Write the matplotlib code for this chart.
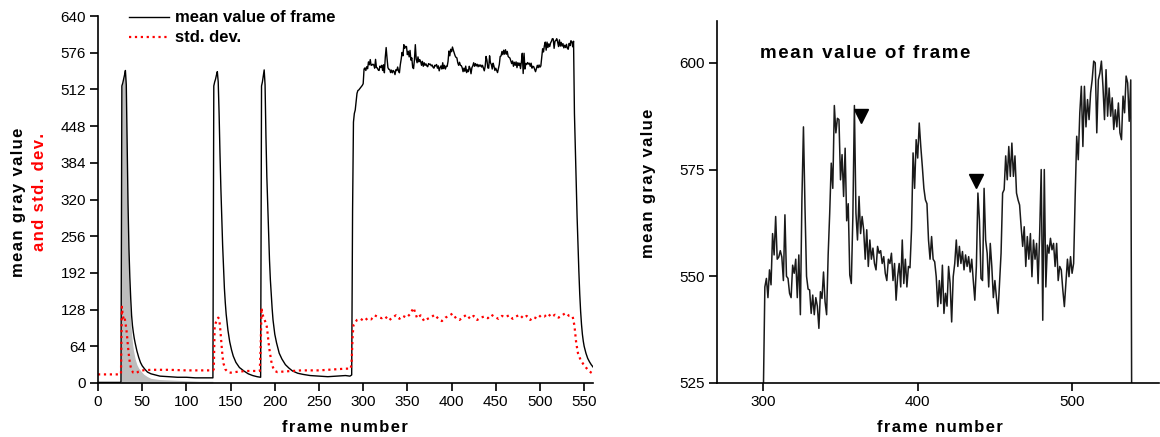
import numpy as np
import matplotlib
matplotlib.use("Agg")
import matplotlib.pyplot as plt

plt.rcParams["font.family"] = ["Liberation Sans", "DejaVu Sans"]

# ── data ─────────────────────────────────────────────────────────────────────
# mean gray value, frames 0..300 (three bleach pulses, then the rise)
MEAN_EARLY_FRAMES = [0, 25, 26, 27, 28, 29, 30, 31, 32, 33, 34, 35, 36, 37, 38, 39, 40, 41, 42, 44,
                     46, 48, 50, 53, 56, 60, 65, 70, 80, 90, 100, 110, 120, 130,
                     131, 132, 133, 134, 135, 136, 137, 138, 139, 140, 141, 142, 143, 144, 145,
                     147, 149, 151, 153, 156, 160, 165, 170, 175, 180, 184,
                     185, 186, 187, 188, 189, 190, 191, 192, 193, 194, 195, 196, 197, 198, 200,
                     202, 205, 208, 212, 216, 220, 226, 232, 240, 250, 260, 270, 280, 285, 287,
                     288, 289, 290, 291, 292, 293, 294, 295, 296, 297, 298, 299, 300]
MEAN_EARLY = [1, 1, 2, 518, 523, 530, 537, 545, 520, 420, 310, 235, 185, 148, 118, 100, 88, 78, 70, 56,
              45, 36, 30, 24, 19, 16, 14, 12, 11, 10, 10, 9, 9, 9,
              518, 525, 530, 537, 543, 525, 470, 400, 340, 290, 240, 200, 165, 140, 120,
              92, 72, 58, 47, 36, 27, 21, 16, 13, 11, 10,
              518, 525, 535, 546, 520, 430, 360, 310, 260, 215, 180, 155, 130, 110, 85,
              70, 52, 42, 32, 26, 21, 17, 15, 13, 12, 11, 12, 13, 12, 14,
              300, 455, 470, 476, 490, 505, 510, 511, 513, 515, 517, 519, 522]

# mean gray value per frame on the plateau, starting at frame 301
PLATEAU_START = 301
PLATEAU = [547.5, 549.5, 545, 551.5, 548, 560, 555, 564, 554, 554.5,
           556, 554.5, 549, 564.4, 550, 549.5, 546, 545, 552.6, 550.7,
           554, 545, 555, 541, 568, 585, 566, 550, 547, 546.8,
           541.3, 545.6, 541, 545, 543, 537.8, 546.4, 544.8, 551, 544,
           541, 555, 564.8, 576.5, 570.6, 590, 583.6, 587, 586.7, 572.6,
           578.5, 568.7, 580, 563, 567, 550.3, 548.3, 564, 590, 564.8,
           558.5, 568.7, 560, 564, 560.9, 554, 560.9, 552.3, 558.5, 554,
           556.6, 553, 551.5, 557, 555.4, 556, 553, 554.6, 550.7, 549,
           554, 553, 555.4, 549, 553, 544.4, 549.9, 553, 547.5, 558.5,
           548.3, 554, 547.5, 552.3, 552, 560.9, 578.9, 570.6, 582, 577.7,
           585.9, 580.4, 575.7, 570.6, 567.9, 567, 558.5, 554, 559.3, 554,
           553.4, 549.9, 542.9, 549, 543.6, 552.6, 541.3, 546, 543, 552.3,
           548.3, 539.3, 549.9, 553, 558.5, 552.3, 557, 553, 555.8, 551.5,
           555, 552.3, 554.6, 551, 554, 549, 544.4, 552.3, 569.5, 563,
           549.5, 549, 570.6, 558.5, 555.4, 547.5, 557.7, 552.3, 545, 549,
           545, 541.3, 548.3, 555.4, 569.5, 570.3, 578.2, 572.6, 580.4, 573.4,
           581.2, 573.4, 578.2, 569.5, 567.9, 566.7, 561.6, 557, 561.6, 552.3,
           559.3, 554, 560, 549.9, 558.5, 554, 557.7, 548.3, 560, 575,
           539.7, 575, 547.5, 557.3, 555.4, 558.9, 556.2, 557.7, 552.3, 557.7,
           549, 552.3, 551.5, 546.8, 542.9, 548.3, 554, 549.9, 554.6, 550.7,
           553, 568.7, 582.8, 577.3, 588.3, 594.5, 580.4, 594.5, 585, 591.4,
           586.7, 593, 596, 600.4, 600, 583.6, 596, 597.6, 600.4, 594.5,
           586.7, 598.4, 587.5, 594.1, 587.5, 591.8, 584.4, 589, 585, 590.6,
           583.6, 582, 592.2, 588.3, 596.9, 595.3, 586.3, 596]

# decay after illumination stops
MEAN_TAIL_FRAMES = [539, 540, 541, 542, 543, 544, 545, 546, 547, 548, 549, 550, 552, 554, 556, 558, 560]
MEAN_TAIL = [470, 410, 350, 290, 240, 195, 155, 125, 102, 85, 73, 64, 52, 43, 37, 32, 28]

# standard deviation of the frame
STD_FRAMES = [0, 25, 26, 27, 28, 29, 30, 31, 32, 33, 34, 35, 36, 37, 38, 40, 43, 46, 50, 60, 80, 100,
              120, 130, 131, 132, 134, 136, 137, 138, 139, 140, 141, 142, 144, 147, 150, 160, 170,
              183, 184, 185, 186, 187, 189, 191, 192, 193, 194, 196, 198, 200, 203, 210, 230, 250,
              270, 280, 286, 287, 288,
              289, 293, 297, 301, 305, 309, 313, 317, 321, 325, 329, 333, 337, 341, 345, 349,
              353, 357, 361, 365, 369, 373, 377, 381, 385, 389, 393, 397, 401, 405, 409, 413,
              417, 421, 425, 429, 433, 437, 441, 445, 449, 453, 457, 461, 465, 469, 473, 477,
              481, 485, 489, 493, 497, 501, 505, 509, 513, 517, 521, 525, 529, 533, 537,
              539, 541, 543, 546, 549, 552, 555, 558, 560]
STD_VALUES = [15, 15, 16, 133, 118, 112, 115, 105, 95, 80, 62, 48, 36, 28, 22, 18, 17, 20, 22, 23, 23, 22,
              22, 22, 24, 100, 108, 114, 112, 100, 80, 62, 45, 34, 24, 19, 18, 20, 21,
              21, 60, 131, 120, 116, 108, 98, 85, 70, 58, 38, 27, 21, 19, 20, 22, 22,
              24, 25, 25, 40, 80,
              101, 110, 112, 108, 113, 111, 118, 115, 113, 116, 109, 114, 118, 112, 117, 114,
              120, 131, 113, 118, 108, 112, 115, 119, 112, 108, 114, 117, 121, 113, 110, 115,
              119, 112, 117, 110, 114, 116, 113, 119, 115, 112, 117, 115, 118, 112, 116, 119,
              113, 117, 110, 115, 112, 118, 116, 121, 115, 119, 114, 118, 122, 117, 116,
              100, 70, 52, 40, 33, 27, 22, 18, 16]

# shaded area under the first pulse
FILL_FRAMES = [26, 27, 28, 29, 30, 31, 32, 33, 34, 35, 36, 37, 38, 39, 40, 42, 44, 46, 49, 52, 56, 60,
               70, 85, 100, 115, 130]
FILL_VALUES = [0, 518, 523, 530, 537, 545, 470, 360, 260, 190, 140, 108, 85, 70, 58, 42, 32, 26, 20, 15,
               11, 8, 6, 5, 4, 3, 3]

# flash events marked on the detail view
MARKER_FRAMES = [363.4, 437.9]
MARKER_VALUES = [587.6, 572.3]

mean_frames = np.concatenate([MEAN_EARLY_FRAMES,
                              PLATEAU_START + np.arange(len(PLATEAU)),
                              MEAN_TAIL_FRAMES])
mean_values = np.concatenate([MEAN_EARLY, PLATEAU, MEAN_TAIL])


def tracked(s):
    # loosen the letter spacing of bold labels
    return "\u200a".join(s)


W, H = 1160, 437
fig = plt.figure(figsize=(W / 100, H / 100), dpi=100)

# ── left: whole recording ───────────────────────────────────────────────────
ax = fig.add_axes([98 / W, 1 - 383 / H, 495 / W, 367 / H])
ax.fill_between(FILL_FRAMES, FILL_VALUES, 0, color="#bdbdbd", linewidth=0)
ax.plot(mean_frames, mean_values, color="black", linewidth=1.0, label="mean value of frame")
ax.plot(STD_FRAMES, STD_VALUES, color="red", linestyle=":", linewidth=1.6, label="std. dev.")
ax.set_xlim(0, 560)
ax.set_ylim(0, 640)
ax.set_xticks(np.arange(0, 551, 50))
ax.set_yticks(np.arange(0, 641, 64))
leg = ax.legend(loc="upper left", bbox_to_anchor=(31 / 495, 1.015), frameon=False,
                handlelength=2.4, handletextpad=0.35, labelspacing=0.3, borderpad=0,
                borderaxespad=0, prop={"weight": "bold", "size": 12})

# ── right: plateau detail ───────────────────────────────────────────────────
ax2 = fig.add_axes([717 / W, 1 - 383 / H, 442 / W, 362 / H])
ax2.plot(mean_frames, mean_values, color="#1a1a1a", linewidth=1.1)
ax2.plot(MARKER_FRAMES, MARKER_VALUES, linestyle="none", marker="v", color="black", markersize=10)
ax2.set_xlim(270, 556.3)
ax2.set_ylim(525, 609.8)
ax2.set_xticks([300, 400, 500])
ax2.set_yticks([525, 550, 575, 600])

for a in (ax, ax2):
    for side in ("top", "right"):
        a.spines[side].set_visible(False)
    for side in ("left", "bottom"):
        a.spines[side].set_linewidth(1.2)
    a.tick_params(direction="out", length=5.5, width=1.2, labelsize=11, pad=3)

# ── labels ──────────────────────────────────────────────────────────────────
lab = dict(fontsize=12, fontweight="bold", ha="center", va="center")
fig.text(345 / W, 1 - 427 / H, tracked("frame number"), **lab)
fig.text(940 / W, 1 - 427 / H, tracked("frame number"), **lab)
fig.text(19 / W, 1 - 202 / H, tracked("mean gray value"), rotation=90, **lab)
fig.text(40 / W, 1 - 192 / H, tracked("and std. dev."), rotation=90, color="red", **lab)
fig.text(649 / W, 1 - 183 / H, tracked("mean gray value"), rotation=90, **lab)
fig.text(760 / W, 1 - 53 / H, tracked("mean value of frame"), fontsize=13.5,
         fontweight="bold", ha="left", va="center")

fig.savefig("out.png", dpi=100)
